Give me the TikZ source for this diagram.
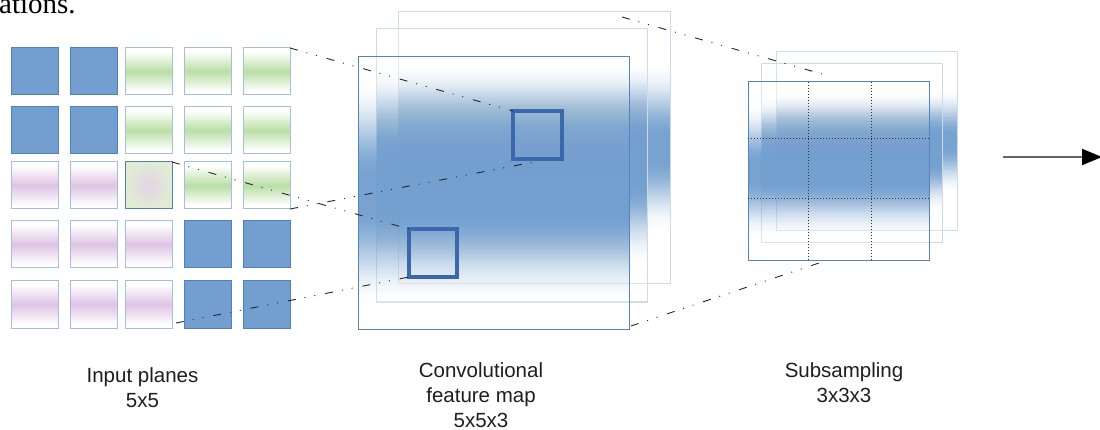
\documentclass[tikz,border=0pt]{standalone}
\usepackage{fontspec}
\setmainfont{Liberation Sans}
\newfontfamily\serifface{Liberation Serif}
\usetikzlibrary{arrows.meta,calc}

\definecolor{cellblue}{RGB}{114,159,207}
\definecolor{cellborder}{RGB}{84,128,186}
\definecolor{lightborder}{RGB}{165,190,222}
\definecolor{gbandc}{RGB}{186,222,166}
\definecolor{pbandc}{RGB}{222,196,228}
\definecolor{planeborder}{RGB}{86,130,190}
\definecolor{ghostborder}{RGB}{205,218,236}
\definecolor{kernelc}{RGB}{58,104,170}
\definecolor{mixgreen}{RGB}{224,237,212}
\definecolor{mixpurple}{RGB}{228,210,232}
\definecolor{labelc}{RGB}{30,30,30}

\pgfdeclareverticalshading{gband}{100bp}{color(0bp)=(white); color(29bp)=(white); color(50bp)=(gbandc); color(71bp)=(white); color(100bp)=(white)}
\pgfdeclareverticalshading{pband}{100bp}{color(0bp)=(white); color(29bp)=(white); color(50bp)=(pbandc); color(71bp)=(white); color(100bp)=(white)}

\tikzset{
  cellbase/.style={anchor=north west, minimum size=47pt, inner sep=0pt, outer sep=0pt, line width=1pt},
  bluecell/.style={cellbase, fill=cellblue, draw=cellborder},
  greencell/.style={cellbase, shade, shading=gband, draw=lightborder},
  purplecell/.style={cellbase, shade, shading=pband, draw=lightborder},
  mixcell/.style={cellbase, inner color=mixpurple, outer color=mixgreen, draw=cellborder},
  planenode/.style={anchor=north west, inner sep=0pt, outer sep=0pt, draw=none},
  kernelbox/.style={anchor=north west, inner sep=0pt, outer sep=0pt, draw=kernelc, line width=3.5pt},
  dashdotline/.style={black!85, line width=0.9pt, dash pattern=on 8pt off 9pt on 1pt off 9pt on 1pt off 10pt},
  gridline/.style={black!80, line width=1pt, dash pattern=on 1.2pt off 1.8pt},
  label/.style={anchor=north, align=center, inner sep=0pt, text=labelc, font=\fontsize{20.5pt}{25pt}\selectfont},
  arrowline/.style={black!60, line width=2pt, -{Triangle[length=20pt, width=16pt, color=black]}}
}

% #1 name, #2 x, #3 y, #4 width, #5 height, #6 core half-height fraction,
% #7 zero half-height fraction, #8 border colour
\newcommand{\drawplane}[8]{%
  \node[planenode, minimum width=#4pt, minimum height=#5pt] (#1) at (#2,#3) {};
  \fill[white, fill opacity=0.25] (#1.north west) rectangle (#1.south east);
  \foreach \k in {1,...,36} {%
    \pgfmathsetmacro\sprev{((\k-1)/36)^2*(3-2*(\k-1)/36)}%
    \pgfmathsetmacro\scur{(\k/36)^2*(3-2*\k/36)}%
    \pgfmathsetmacro\op{0.95*(\scur-\sprev)/(1-0.95*\sprev)}%
    \pgfmathsetmacro\hh{#5*(#7-(#7-#6)*(\k-1)/35)}%
    \fill[cellblue, fill opacity=\op] ($(#1.west)+(0,-\hh)$) rectangle ($(#1.east)+(0,\hh)$);
  }
  \draw[#8, line width=1pt] (#1.north west) rectangle (#1.south east);
}

\begin{document}
\begin{tikzpicture}[x=1pt, y=-1pt]
\useasboundingbox (0,0) rectangle (1100,430);

% cut-off text above the figure
\node[anchor=base west, inner sep=0pt, font=\serifface\fontsize{29pt}{30pt}\selectfont] (toptext) at (-1,13.5) {ations.};

% ---------- input planes 5x5 ----------
\node[bluecell]   (c11) at (11,48) {};
\node[bluecell]   (c12) at (70,48) {};
\node[greencell]  (c13) at (125,48) {};
\node[greencell]  (c14) at (184,48) {};
\node[greencell]  (c15) at (243,48) {};

\node[bluecell]   (c21) at (11,107) {};
\node[bluecell]   (c22) at (70,107) {};
\node[greencell]  (c23) at (125,107) {};
\node[greencell]  (c24) at (184,107) {};
\node[greencell]  (c25) at (243,107) {};

\node[purplecell] (c31) at (11,162) {};
\node[purplecell] (c32) at (70,162) {};
\node[mixcell]    (c33) at (125,162) {};
\node[greencell]  (c34) at (184,162) {};
\node[greencell]  (c35) at (243,162) {};

\node[purplecell] (c41) at (11,221) {};
\node[purplecell] (c42) at (70,221) {};
\node[purplecell] (c43) at (125,221) {};
\node[bluecell]   (c44) at (184,221) {};
\node[bluecell]   (c45) at (243,221) {};

\node[purplecell] (c51) at (11,281) {};
\node[purplecell] (c52) at (70,281) {};
\node[purplecell] (c53) at (125,281) {};
\node[bluecell]   (c54) at (184,281) {};
\node[bluecell]   (c55) at (243,281) {};

% ---------- convolutional feature map ----------
\drawplane{convB}{398}{12}{272}{272}{0.04}{0.30}{ghostborder}
\drawplane{convM}{376}{29}{271}{273}{0.05}{0.36}{ghostborder}
\drawplane{convF}{358}{57}{271}{272}{0.06}{0.40}{planeborder}

\node[kernelbox, minimum width=49pt, minimum height=48pt] (sqA) at (513,111) {};
\node[kernelbox, minimum width=48pt, minimum height=48pt] (sqB) at (409,229) {};

% ---------- subsampling ----------
\drawplane{subB}{776}{52}{181}{179}{0.03}{0.28}{ghostborder}
\drawplane{subM}{761}{64}{181}{179}{0.04}{0.32}{ghostborder}
\drawplane{subF}{748}{82}{181}{179}{0.05}{0.36}{planeborder}

\coordinate (g1t) at (808,82);  \coordinate (g1b) at (808,261);
\coordinate (g2t) at (871,82);  \coordinate (g2b) at (871,261);
\coordinate (h1l) at (748,139); \coordinate (h1r) at (929,139);
\coordinate (h2l) at (748,199); \coordinate (h2r) at (929,199);
\draw[gridline] (g1t) -- (g1b);
\draw[gridline] (g2t) -- (g2b);
\draw[gridline] (h1l) -- (h1r);
\draw[gridline] (h2l) -- (h2r);

% ---------- projection lines ----------
\coordinate (lA2) at (534,162);
\coordinate (lB1) at (176,323);
\coordinate (k1) at (622,17);
\coordinate (k2) at (822,74);
\coordinate (k3) at (631,326);
\coordinate (k4) at (822,262);

\draw[dashdotline] (c15.north east) -- (sqA.north west);
\draw[dashdotline] (c35.south east) -- (lA2);
\draw[dashdotline] (c33.north east) -- (sqB.north west);
\draw[dashdotline] (lB1) -- (sqB.south west);
\draw[dashdotline] (k1) -- (k2);
\draw[dashdotline] (k3) -- (k4);

% ---------- output arrow ----------
\coordinate (arrS) at (1003,157);
\coordinate (arrE) at (1102,157);
\draw[arrowline] (arrS) -- (arrE);

% ---------- labels ----------
\node[label] (labIn)   at (142.5,367) {Input planes\\5x5};
\node[label] (labConv) at (481,362.5) {Convolutional\\feature map\\5x5x3};
\node[label] (labSub)  at (844,362)   {Subsampling\\3x3x3};
\end{tikzpicture}
\end{document}
